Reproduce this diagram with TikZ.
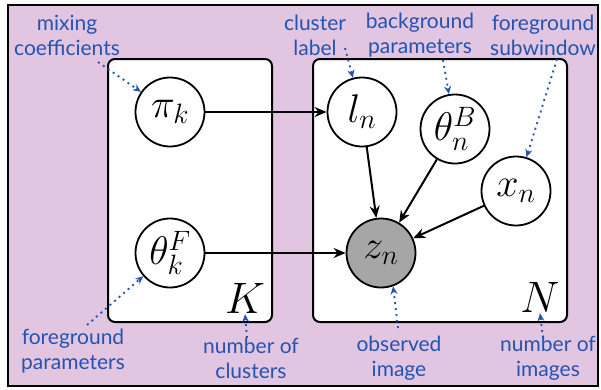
\RequirePackage{fix-cm}
\documentclass[tikz,border=0pt]{standalone}
\usepackage{fontspec}
\newfontfamily\notefont{Lato}
\usepackage{tikz}
\usetikzlibrary{arrows.meta,positioning}
\definecolor{BgMauve}{HTML}{E2C5E0}
\definecolor{NoteBlue}{HTML}{2553B0}
\definecolor{ObsGrey}{HTML}{A6A6A6}

\begin{document}
\begin{tikzpicture}[x=1pt,y=-1pt,
  plate/.style={draw,line width=2pt,rounded corners=7pt,fill=white},
  var/.style={draw,circle,line width=1.8pt,fill=white,minimum size=69pt,inner sep=0pt,font=\fontsize{40}{44}\selectfont},
  obs/.style={var,fill=ObsGrey},
  platelbl/.style={inner sep=1pt,font=\fontsize{44}{48}\selectfont},
  note/.style={align=center,text=NoteBlue,font=\notefont\fontsize{21}{25}\selectfont},
  link/.style={-{Stealth[length=12pt,width=10pt]},line width=2pt},
  pointer/.style={-{Stealth[length=8pt,width=7pt]},NoteBlue,dash pattern=on 2pt off 4pt,line width=1.8pt}]
  \useasboundingbox (0,0) rectangle (601,389);
  \draw[line width=2.5pt,fill=BgMauve] (8,5) rectangle (598,386);
  % plates
  \node[plate,minimum width=164pt,minimum height=263pt] (plateK) at (190,190.5){};
  \node[plate,minimum width=254pt,minimum height=263pt] (plateN) at (440,190.5){};
  \node[platelbl] (lblK) at (245,298){$K$};
  \node[platelbl] (lblN) at (540,297){$N$};
  % variables
  \node[var] (pik) at (170,112){$\pi_k$};
  \node[var] (thetaF) at (170,253){$\theta^F_k$};
  \node[var] (ln) at (362,112){$l_n$};
  \node[var] (thetaB) at (455,129){$\theta^B_n$};
  \node[var] (xn) at (516,191){$x_n$};
  \node[obs] (zn) at (381,253){$z_n$};
  \draw[link] (pik) -- (ln);
  \draw[link] (thetaF) -- (zn);
  \draw[link] (ln) -- (zn);
  \draw[link] (thetaB) -- (zn);
  \draw[link] (xn) -- (zn);
  % notes
  \node[note] (nMix) at (67,35){mixing\\coefficients};
  \node[note] (nLabel) at (315,35){cluster\\label};
  \node[note] (nBg) at (420,35){background\\parameters};
  \node[note] (nFgWin) at (543,35){foreground\\subwindow};
  \node[note] (nFgPar) at (73,351){foreground\\parameters};
  \node[note] (nNumK) at (251,358){number of\\clusters};
  \node[note] (nObs) at (399,358){observed\\image};
  \node[note] (nNumN) at (548,358){number of\\images};
  \coordinate (mixTail) at (98,62);
  \coordinate (labelTail) at (345,48);
  \coordinate (bgTail) at (443,60);
  \coordinate (fgWinTail) at (557,59);
  \coordinate (fgParTail) at (87,325);
  \coordinate (numKTail) at (247,338);
  \coordinate (obsTail) at (398,328);
  \coordinate (numNTail) at (543,338);
  \draw[pointer] (mixTail) -- (pik);
  \draw[pointer] (labelTail) -- (ln);
  \draw[pointer] (bgTail) -- (thetaB);
  \draw[pointer] (fgWinTail) -- (xn);
  \draw[pointer] (fgParTail) -- (thetaF);
  \draw[pointer] (numKTail) -- (lblK.south);
  \draw[pointer] (obsTail) -- (zn.-70);
  \draw[pointer] (numNTail) -- (lblN.south);
\end{tikzpicture}
\end{document}
